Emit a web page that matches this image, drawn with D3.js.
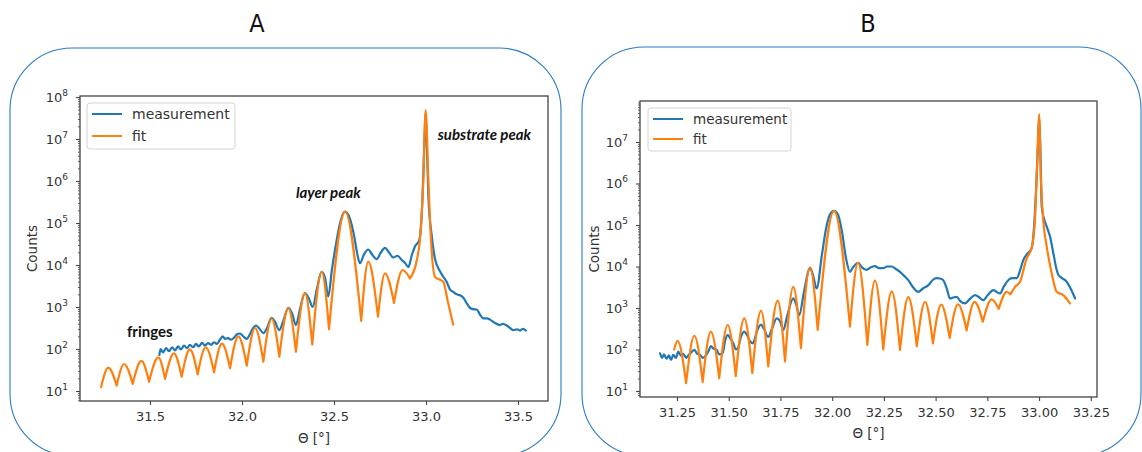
<!DOCTYPE html>
<html>
<head>
<meta charset="utf-8">
<script src="https://cdn.jsdelivr.net/npm/d3@7"></script>
<style>
  html, body { margin: 0; padding: 0; background: #fff; }
  svg { display: block; }
</style>
</head>
<body>
<svg id="chart" width="1142" height="452"></svg>
<script>
// ---------------- DATA ----------------
// Panel A : fit (orange)
const fitA_theta = [31.234, 31.273, 31.319, 31.359, 31.406, 31.453, 31.495, 31.545, 31.582, 31.630,
  31.672, 31.717, 31.759, 31.803, 31.848, 31.891, 31.935, 31.980, 32.026, 32.071,
  32.116, 32.161, 32.203, 32.252, 32.293, 32.342, 32.382, 32.433, 32.473, 32.560,
  32.648, 32.686, 32.739, 32.777, 32.826, 32.873, 32.913, 32.950, 32.967, 32.985,
  32.998, 33.013, 33.027, 33.049, 33.094, 33.120, 33.148];
const fitA_counts = [12.3, 36, 13.5, 44, 14.8, 52, 16.6, 63, 19.5, 79,
  21.9, 98, 25, 110, 28, 135, 35, 200, 40, 316,
  50, 525, 66, 933, 87, 2140, 129, 6900, 295, 186000,
  468, 12000, 590, 6300, 1260, 7600, 4800, 13000, 40000, 1000000,
  49000000, 1000000, 40000, 5200, 4000, 1260, 380];

// Panel A : measurement (blue)
const measA_theta = [31.551, 31.557, 31.571, 31.587, 31.603, 31.620, 31.636, 31.652, 31.668, 31.685,
  31.701, 31.717, 31.734, 31.750, 31.766, 31.783, 31.799, 31.815, 31.832, 31.848,
  31.864, 31.880, 31.895, 31.908, 31.924, 31.940, 31.957, 31.973, 31.989, 32.005,
  32.026, 32.043, 32.060, 32.076, 32.092, 32.116, 32.136, 32.161, 32.179, 32.203,
  32.223, 32.252, 32.272, 32.293, 32.315, 32.342, 32.364, 32.384, 32.408, 32.433,
  32.451, 32.469, 32.489, 32.511, 32.533, 32.560, 32.587, 32.609, 32.625, 32.641,
  32.663, 32.686, 32.707, 32.732, 32.755, 32.777, 32.799, 32.822, 32.845, 32.868,
  32.886, 32.904, 32.924, 32.940, 32.964, 32.978, 32.992, 32.998, 33.005, 33.013,
  33.031, 33.049, 33.076, 33.094, 33.112, 33.130, 33.148, 33.167, 33.185, 33.203,
  33.220, 33.239, 33.255, 33.276, 33.293, 33.312, 33.332, 33.348, 33.375, 33.402,
  33.418, 33.439, 33.457, 33.475, 33.495, 33.511, 33.527, 33.543];
const measA_counts = [72, 100, 83, 105, 89, 110, 93, 115, 98, 120,
  105, 126, 110, 132, 115, 141, 120, 138, 126, 145,
  132, 166, 200, 174, 182, 166, 186, 224, 234, 204,
  174, 224, 316, 363, 316, 240, 316, 550, 447, 282,
  447, 955, 708, 372, 891, 2140, 1580, 1000, 2820, 6900,
  5010, 1780, 7940, 31600, 100000, 186000, 126000, 50000, 20000, 11000,
  17800, 23400, 17800, 13800, 20000, 25700, 20000, 15100, 16600, 13200,
  11200, 8900, 17800, 27500, 40000, 200000, 10000000, 42000000, 6300000, 430000,
  50000, 14000, 7100, 5250, 4000, 2630, 2290, 2000, 1900, 1660,
  1260, 955, 891, 871, 661, 537, 537, 501, 417, 372,
  398, 363, 316, 282, 295, 275, 302, 275];

// Panel B : fit (orange)
const fitB_theta = [31.236, 31.253, 31.294, 31.334, 31.374, 31.414, 31.454, 31.495, 31.534, 31.575,
  31.614, 31.656, 31.691, 31.737, 31.772, 31.812, 31.849, 31.893, 31.930, 32.009,
  32.086, 32.125, 32.170, 32.207, 32.247, 32.288, 32.328, 32.368, 32.409, 32.449,
  32.487, 32.527, 32.568, 32.608, 32.650, 32.688, 32.728, 32.771, 32.805, 32.844,
  32.862, 32.884, 32.908, 32.940, 32.964, 32.980, 32.991, 33.000, 33.009, 33.020,
  33.037, 33.061, 33.085, 33.117, 33.149];
const fitB_counts = [100, 162, 15.5, 214, 16.6, 269, 20.4, 389, 22.9, 562,
  26.9, 851, 38.9, 1510, 51.3, 3240, 107, 9550, 295, 219000,
  355, 12300, 129, 4570, 100, 2510, 98, 1820, 120, 1410,
  141, 1200, 191, 1230, 288, 1410, 468, 1620, 955, 2450,
  2140, 3240, 4270, 15800, 27500, 132000, 3100000, 47000000, 1200000, 132000,
  30200, 6900, 2450, 2040, 1290];

// Panel B : measurement (blue)
const measB_theta = [31.168, 31.178, 31.187, 31.200, 31.211, 31.221, 31.232, 31.245, 31.256, 31.269,
  31.280, 31.294, 31.305, 31.318, 31.334, 31.347, 31.361, 31.376, 31.390, 31.402,
  31.414, 31.426, 31.442, 31.454, 31.471, 31.482, 31.495, 31.506, 31.522, 31.535,
  31.546, 31.559, 31.575, 31.588, 31.603, 31.617, 31.637, 31.656, 31.670, 31.691,
  31.709, 31.732, 31.748, 31.764, 31.782, 31.812, 31.825, 31.841, 31.864, 31.893,
  31.907, 31.925, 31.951, 31.970, 31.989, 32.009, 32.028, 32.047, 32.067, 32.086,
  32.101, 32.126, 32.144, 32.167, 32.183, 32.207, 32.226, 32.247, 32.265, 32.288,
  32.308, 32.328, 32.347, 32.368, 32.391, 32.416, 32.439, 32.465, 32.487, 32.505,
  32.521, 32.537, 32.555, 32.569, 32.584, 32.602, 32.618, 32.642, 32.666, 32.690,
  32.710, 32.730, 32.753, 32.779, 32.797, 32.811, 32.830, 32.851, 32.869, 32.892,
  32.908, 32.924, 32.942, 32.964, 32.975, 32.985, 32.995, 33.000, 33.006, 33.013,
  33.024, 33.037, 33.053, 33.069, 33.085, 33.093, 33.111, 33.134, 33.149, 33.164,
  33.174];
const measB_counts = [81, 63, 76, 60, 72, 56, 74, 63, 89, 71,
  79, 63, 72, 85, 98, 79, 74, 63, 72, 91,
  120, 105, 98, 76, 83, 158, 224, 191, 141, 100,
  112, 200, 269, 224, 158, 141, 282, 398, 316, 200,
  316, 562, 479, 295, 631, 1700, 1260, 676, 2510, 9120,
  6310, 2950, 20000, 79400, 178000, 219000, 178000, 70800, 15800, 7410,
  9550, 12300, 9550, 8320, 9330, 10200, 9120, 9120, 10000, 10000,
  8710, 7410, 6030, 4680, 3160, 2450, 2950, 3550, 4790, 5250,
  5130, 4680, 2820, 1700, 1780, 1860, 1480, 1290, 1660, 2040,
  1820, 1550, 2090, 2690, 2400, 2240, 3310, 4680, 5250, 5250,
  7940, 14500, 20000, 27500, 79400, 631000, 10000000, 40000000, 7900000, 275000,
  141000, 91200, 52500, 20900, 8320, 6310, 5250, 4270, 3160, 2240,
  1700];

// Tick values / labels
const xTicksA = [31.5, 32.0, 32.5, 33.0, 33.5];
const xTickLabelsA = ["31.5", "32.0", "32.5", "33.0", "33.5"];
const xTicksB = [31.25, 31.50, 31.75, 32.00, 32.25, 32.50, 32.75, 33.00, 33.25];
const xTickLabelsB = ["31.25", "31.50", "31.75", "32.00", "32.25", "32.50", "32.75", "33.00", "33.25"];
const yExpA = [1, 2, 3, 4, 5, 6, 7, 8];
const yExpB = [1, 2, 3, 4, 5, 6, 7];
const seriesNames = ["measurement", "fit"];
const panelTitles = ["A", "B"];
const annotationsA = [
  {text: "substrate peak", theta: 33.064, counts: 9500000, italic: true},
  {text: "layer peak", theta: 32.293, counts: 400000, italic: true},
  {text: "fringes", theta: 31.375, counts: 190, italic: false}
];

// ---------------- DRAWING ----------------
const svg = d3.select("#chart");
const BLUE = "#1f77b4", ORANGE = "#ff7f0e", FRAME = "#2a7bc4";
const FONT = "'DejaVu Sans', sans-serif";

// Rounded panel frames
svg.append("rect").attr("x", 10).attr("y", 48).attr("width", 551).attr("height", 408)
  .attr("rx", 62).attr("ry", 62).attr("fill", "none").attr("stroke", FRAME).attr("stroke-width", 1.1);
svg.append("rect").attr("x", 582).attr("y", 47).attr("width", 559).attr("height", 409)
  .attr("rx", 62).attr("ry", 62).attr("fill", "none").attr("stroke", FRAME).attr("stroke-width", 1.1);

// Panel titles
[[257, panelTitles[0]], [868, panelTitles[1]]].forEach(([x, t]) => {
  svg.append("text").attr("x", x).attr("y", 32).attr("text-anchor", "middle")
    .attr("font-family", "'Liberation Sans Narrow', 'DejaVu Sans Condensed', 'DejaVu Sans', sans-serif")
    .attr("font-stretch", "condensed")
    .attr("font-size", 25).attr("fill", "#111").text(t);
});

function cuspSegments(xs, ys) {
  const segs = [];
  let cur = [[xs[0], ys[0]]];
  for (let i = 1; i < xs.length; i++) {
    cur.push([xs[i], ys[i]]);
    if (i < xs.length - 1 && ys[i] < ys[i - 1] && ys[i] < ys[i + 1]) {
      segs.push(cur);
      cur = [[xs[i], ys[i]]];
    }
  }
  segs.push(cur);
  return segs;
}

function drawPanel(cfg) {
  const g = svg.append("g");
  const x = d3.scaleLinear().domain(cfg.xDomain).range([cfg.left, cfg.right]);
  const y = d3.scaleLog().domain(cfg.yDomain).range([cfg.bottom, cfg.top]);

  const clipId = "clip" + cfg.id;
  svg.append("clipPath").attr("id", clipId).append("rect")
    .attr("x", cfg.left).attr("y", cfg.top).attr("width", cfg.right - cfg.left).attr("height", cfg.bottom - cfg.top);

  // Lines
  const lineM = d3.line().x(d => x(d[0])).y(d => y(d[1])).curve(d3.curveMonotoneX);
  const measPts = cfg.measTheta.map((t, i) => [t, cfg.measCounts[i]]);
  g.append("path").attr("clip-path", `url(#${clipId})`)
    .attr("d", lineM(measPts)).attr("fill", "none").attr("stroke", BLUE)
    .attr("stroke-width", 2.2).attr("stroke-linejoin", "round").attr("stroke-linecap", "round");

  const fitSegs = cuspSegments(cfg.fitTheta, cfg.fitCounts);
  g.append("path").attr("clip-path", `url(#${clipId})`)
    .attr("d", fitSegs.map(s => lineM(s)).join(""))
    .attr("fill", "none").attr("stroke", ORANGE)
    .attr("stroke-width", 2.2).attr("stroke-linejoin", "round").attr("stroke-linecap", "round");

  // Frame
  g.append("rect").attr("x", cfg.left).attr("y", cfg.top)
    .attr("width", cfg.right - cfg.left).attr("height", cfg.bottom - cfg.top)
    .attr("fill", "none").attr("stroke", "#444").attr("stroke-width", 1.3);

  // X axis
  const xAxis = d3.axisBottom(x).tickValues(cfg.xTicks)
    .tickFormat((d, i) => cfg.xLabels[i]).tickSize(4).tickPadding(7);
  const gx = g.append("g").attr("transform", `translate(0,${cfg.bottom})`).call(xAxis);
  gx.select(".domain").remove();
  gx.selectAll("line").attr("stroke", "#444").attr("stroke-width", 1.1);
  gx.selectAll("text").attr("font-family", FONT).attr("font-size", 13).attr("fill", "#333");

  // Y axis major
  const yMajor = cfg.yExp.map(e => Math.pow(10, e));
  const yAxis = d3.axisLeft(y).tickValues(yMajor).tickFormat("").tickSize(4).tickPadding(8);
  const gy = g.append("g").attr("transform", `translate(${cfg.left},0)`).call(yAxis);
  gy.select(".domain").remove();
  gy.selectAll("line").attr("stroke", "#444").attr("stroke-width", 1.1);
  gy.selectAll(".tick text").each(function (d, i) {
    const t = d3.select(this);
    t.text(null).attr("font-family", FONT).attr("font-size", 13).attr("fill", "#333");
    t.append("tspan").text("10");
    t.append("tspan").attr("font-size", 9).attr("dy", -6).text(String(cfg.yExp[i]));
  });

  // Y axis minor
  const [ymin, ymax] = cfg.yDomain;
  const minor = [];
  for (let e = Math.floor(Math.log10(ymin)); e <= Math.ceil(Math.log10(ymax)); e++) {
    for (let m = 2; m <= 9; m++) {
      const v = m * Math.pow(10, e);
      if (v >= ymin && v <= ymax) minor.push(v);
    }
  }
  const gyMinor = g.append("g").attr("transform", `translate(${cfg.left},0)`)
    .call(d3.axisLeft(y).tickValues(minor).tickFormat("").tickSize(2));
  gyMinor.select(".domain").remove();
  gyMinor.selectAll("line").attr("stroke", "#444").attr("stroke-width", 0.8);

  // Axis labels
  g.append("text").attr("transform", `translate(${cfg.ylabelX},${(cfg.top + cfg.bottom) / 2}) rotate(-90)`)
    .attr("text-anchor", "middle").attr("font-family", FONT).attr("font-size", 13.5).attr("fill", "#333")
    .text("Counts");
  g.append("text").attr("x", (cfg.left + cfg.right) / 2).attr("y", cfg.xlabelY)
    .attr("text-anchor", "middle").attr("font-family", FONT).attr("font-size", 13.5).attr("fill", "#333")
    .text("Θ [°]");

  // Legend
  const L = cfg.legend;
  const lg = g.append("g");
  lg.append("rect").attr("x", L.x).attr("y", L.y).attr("width", L.w).attr("height", L.h)
    .attr("rx", 3).attr("fill", "#fff").attr("fill-opacity", 0.8).attr("stroke", "#d4d4d4");
  seriesNames.forEach((name, i) => {
    const yy = L.y + L.row0 + i * L.step;
    lg.append("line").attr("x1", L.x + 5).attr("x2", L.x + 35).attr("y1", yy).attr("y2", yy)
      .attr("stroke", i === 0 ? BLUE : ORANGE).attr("stroke-width", 2);
    lg.append("text").attr("x", L.x + 45).attr("y", yy).attr("dy", "0.35em")
      .attr("font-family", FONT).attr("font-size", L.fs).attr("fill", "#333").text(name);
  });

  return {x, y, g};
}

const pA = drawPanel({
  id: "A", left: 80, right: 548, top: 96, bottom: 401,
  xDomain: [31.1196, 33.663], yDomain: [Math.pow(10, 0.762), Math.pow(10, 8.024)],
  xTicks: xTicksA, xLabels: xTickLabelsA, yExp: yExpA,
  fitTheta: fitA_theta, fitCounts: fitA_counts, measTheta: measA_theta, measCounts: measA_counts,
  ylabelX: 37, xlabelY: 443,
  legend: {x: 87, y: 103, w: 148, h: 46, row0: 11, step: 22, fs: 14}
});

const pB = drawPanel({
  id: "B", left: 640, right: 1097, top: 101, bottom: 397,
  xDomain: [31.0712, 33.280], yDomain: [Math.pow(10, 0.855), Math.pow(10, 7.988)],
  xTicks: xTicksB, xLabels: xTickLabelsB, yExp: yExpB,
  fitTheta: fitB_theta, fitCounts: fitB_counts, measTheta: measB_theta, measCounts: measB_counts,
  ylabelX: 599, xlabelY: 438,
  legend: {x: 648, y: 108, w: 143, h: 43, row0: 11, step: 20, fs: 13.5}
});

// Annotations in panel A
annotationsA.forEach(a => {
  pA.g.append("text").attr("x", pA.x(a.theta)).attr("y", pA.y(a.counts))
    .attr("font-family", "Lato, 'Open Sans', sans-serif").attr("font-weight", "bold")
    .attr("font-style", a.italic ? "italic" : "normal")
    .attr("font-size", 15).attr("fill", "#111").text(a.text);
});
</script>
</body>
</html>
